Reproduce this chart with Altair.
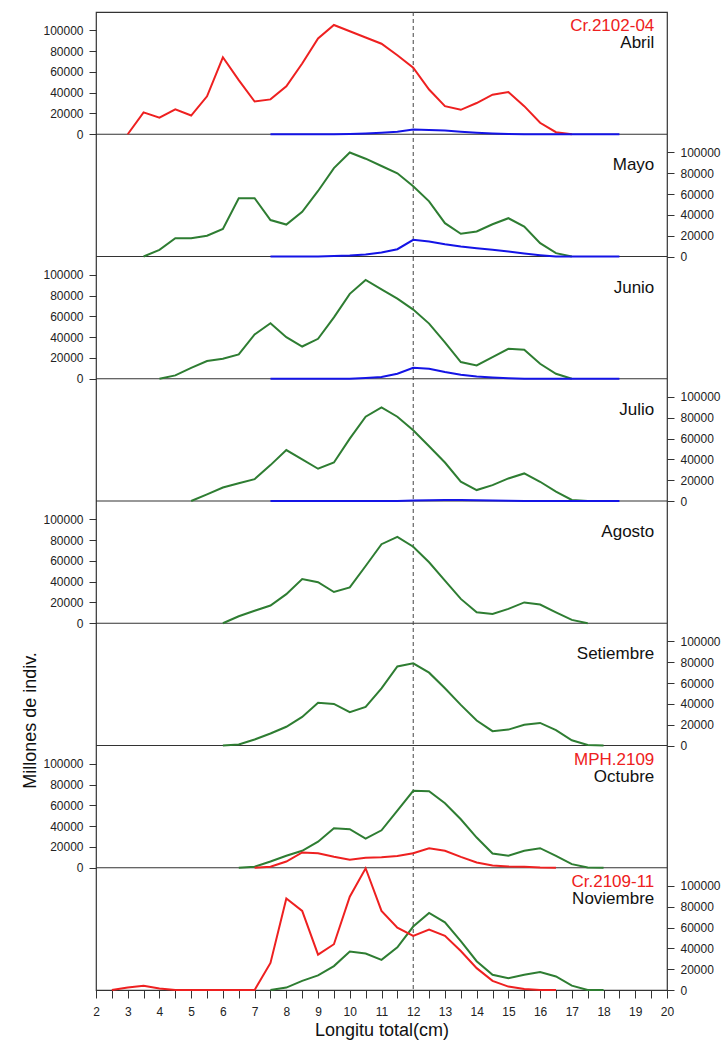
import altair as alt
import pandas as pd

# ---------------- data ----------------
LENGTHS = [2.5, 3.0, 3.5, 4.0, 4.5, 5.0, 5.5, 6.0, 6.5, 7.0, 7.5, 8.0, 8.5, 9.0,
           9.5, 10.0, 10.5, 11.0, 11.5, 12.0, 12.5, 13.0, 13.5, 14.0, 14.5, 15.0,
           15.5, 16.0, 16.5, 17.0, 17.5, 18.0, 18.5]
N = None

MONTHS = ["Abril", "Mayo", "Junio", "Julio", "Agosto", "Setiembre", "Octubre", "Noviembre"]
CRUISES = ["Cr.2102-04", "", "", "", "", "", "MPH.2109", "Cr.2109-11"]

abril_red = [N, 0, 21000, 16000, 24000, 18000, 36500, 74000, 52000, 31500, 33500, 46000, 68000, 92000,
             105000, 99000, 93000, 87000, 76000, 64000, 43000, 27000, 23500, 30000, 38000, 40500,
             27000, 11000, 2000, 0, N, N, N]
abril_blue = [N, N, N, N, N, N, N, N, N, N, 0, 0, 0, 0,
              0, 300, 800, 1500, 2500, 4500, 4200, 3500, 2500, 1500, 800, 300,
              0, 0, 0, 0, 0, 0, 0]
mayo_green = [N, N, 0, 6400, 17600, 17600, 20000, 26500, 56000, 56000, 35000, 30700, 43000, 63000,
              85000, 100000, 94000, 87000, 80000, 67500, 53000, 32000, 21800, 24000, 31000, 36800,
              28800, 12800, 3200, 0, N, N, N]
mayo_blue = [N, N, N, N, N, N, N, N, N, N, 0, 0, 0, 0,
             500, 1000, 2000, 3800, 7000, 16000, 14400, 11800, 9600, 8000, 6400, 4800,
             2900, 1300, 0, 0, 0, 0, 0]
junio_green = [N, N, N, 0, 3200, 10500, 17000, 19200, 23400, 42600, 53400, 40000, 31000, 38400,
               59000, 81600, 95000, 86000, 77000, 66500, 53000, 35000, 16000, 12800, 20800, 28800,
               27800, 14400, 4800, 0, N, N, N]
junio_blue = [N, N, N, N, N, N, N, N, N, N, 0, 0, 0, 0,
              0, 0, 700, 1600, 4800, 10500, 9600, 6400, 3800, 2200, 1300, 500,
              0, 0, 0, 0, 0, 0, 0]
julio_green = [N, N, N, N, N, 0, 6400, 13000, 17000, 21000, 34500, 49000, 40000, 31000,
               37000, 60000, 81000, 90000, 81000, 68000, 52700, 37000, 18500, 10500, 15300, 21700,
               26500, 18500, 9000, 1000, 0, N, N]
julio_blue = [N, N, N, N, N, N, N, N, N, N, 0, 0, 0, 0,
              0, 0, 0, 0, 0, 400, 800, 900, 900, 800, 600, 300,
              0, 0, 0, 0, 0, 0, 0]
agosto_green = [N, N, N, N, N, N, N, 0, 6700, 12000, 17000, 28000, 42500, 39400,
                30000, 34500, 55000, 76000, 83000, 73600, 58600, 41000, 23400, 10500, 9000, 13800,
                20000, 18000, 10500, 3200, 0, N, N]
setiembre_green = [N, N, N, N, N, N, N, 0, 1000, 5800, 11500, 18000, 27500, 41000,
                   40000, 32000, 37000, 55000, 76000, 79000, 70000, 55000, 39000, 24000, 13800, 15300,
                   20000, 21700, 14700, 5000, 500, 0, N]
octubre_green = [N, N, N, N, N, N, N, N, 0, 1000, 6000, 11500, 16300, 25000,
                 38000, 37000, 28000, 36000, 55000, 74000, 73500, 62000, 46600, 29000, 13700, 11500,
                 16300, 18800, 11500, 3500, 300, 0, N]
octubre_red = [N, N, N, N, N, N, N, N, N, 0, 1000, 6000, 14700, 14000,
               10500, 7700, 9600, 10200, 11200, 14000, 18800, 16300, 10500, 5100, 2200, 1300,
               1000, 300, 0, N, N, N, N]
noviembre_green = [N, N, N, N, N, N, N, N, N, N, 0, 2300, 8800, 14000,
                   23000, 37000, 35000, 29000, 41000, 61000, 74000, 65000, 47000, 27700, 14700, 11400,
                   14700, 17300, 13000, 4200, 0, 0, N]
noviembre_red = [0, 2500, 4000, 1500, 0, 0, 0, 0, 0, 0, 26000, 88000, 76000, 34000,
                 44000, 89600, 117000, 76000, 60000, 52000, 58000, 52000, 37500, 21000, 8800, 3300,
                 1000, 0, 0, N, N, N, N]

SERIES = [
    ("Abril", "red", abril_red), ("Abril", "blue", abril_blue),
    ("Mayo", "green", mayo_green), ("Mayo", "blue", mayo_blue),
    ("Junio", "green", junio_green), ("Junio", "blue", junio_blue),
    ("Julio", "green", julio_green), ("Julio", "blue", julio_blue),
    ("Agosto", "green", agosto_green),
    ("Setiembre", "green", setiembre_green),
    ("Octubre", "green", octubre_green), ("Octubre", "red", octubre_red),
    ("Noviembre", "green", noviembre_green), ("Noviembre", "red", noviembre_red),
]

Y_TICKS = [0, 20000, 40000, 60000, 80000, 100000]
X_TICKS = [2 + 0.5 * k for k in range(37)]

# ---------------- layout constants ----------------
P = 117500                 # data span of one panel
NP = len(MONTHS)
PLOT_W, PLOT_H = 571, 978
PX = P / (PLOT_H / NP)      # data units per pixel inside a panel

def offset(month):
    return (NP - 1 - MONTHS.index(month)) * P

rank = {"green": 0, "red": 1, "blue": 2}
rows = []
for month, col, vals in SERIES:
    for x, v in zip(LENGTHS, vals):
        if v is not None:
            rows.append({"x": x, "yy": v + offset(month), "series": col,
                         "key": f"{MONTHS.index(month)}{rank[col]}{month}"})
df = pd.DataFrame(rows)

left_months = MONTHS[0::2]
right_months = MONTHS[1::2]
left_vals = [offset(m) + t for m in left_months for t in Y_TICKS]
right_vals = [offset(m) + t for m in right_months for t in Y_TICKS]

sep_df = pd.DataFrame({"yy": [k * P for k in range(1, NP)]})
dash_df = pd.DataFrame({"x": [12]})
lab_df = pd.DataFrame({"x": [19.6] * NP, "yy": [offset(m) + P - 36 * PX for m in MONTHS], "label": MONTHS})
cr_df = pd.DataFrame({"x": [19.6] * NP, "yy": [offset(m) + P - 19 * PX for m in MONTHS], "label": CRUISES})
cr_df = cr_df[cr_df["label"] != ""]

FONT = "Liberation Sans"
YS = alt.Scale(domain=[0, NP * P], nice=False, zero=False)
XS = alt.Scale(domain=[2, 20], nice=False, zero=False)

X = alt.X("x:Q", scale=XS, axis=alt.Axis(
    values=X_TICKS, labelExpr="datum.value % 1 == 0 ? format(datum.value, 'd') : ''",
    tickSize=8, labelPadding=8, labelFontSize=12, labelFlush=False, labelOverlap=False,
    grid=False, domain=False, title="Longitu total(cm)", titleFontSize=18, titlePadding=4))

lab_expr = f"format(datum.value % {P}, 'd')"
Y_left = alt.Y("yy:Q", scale=YS, axis=alt.Axis(
    orient="left", values=left_vals, labelExpr=lab_expr, tickSize=7, labelPadding=6,
    labelFontSize=12, grid=False, domain=False, labelOverlap=False,
    title="Millones de indiv.", titleFontSize=18, titleAngle=270, titleX=-66, titleY=708,
    titleAlign="center", titleBaseline="middle"))
Y_right = alt.Y("yy:Q", scale=YS, axis=alt.Axis(
    orient="right", values=right_vals, labelExpr=lab_expr, tickSize=7, labelPadding=6,
    labelFontSize=12, grid=False, domain=False, labelOverlap=False, title=None))
Y_none = alt.Y("yy:Q", scale=YS, axis=None)

lines = alt.Chart(df).mark_line(strokeWidth=2).encode(
    x=X, y=Y_left,
    color=alt.Color("series:N", scale=alt.Scale(domain=["green", "red", "blue"],
                                                range=["#2E7D32", "#EE2020", "#1414E6"]), legend=None),
    detail="key:N", order="x:Q")

seps = alt.Chart(sep_df).mark_rule(color="#333333", strokeWidth=1.2).encode(y=Y_right)
dash = alt.Chart(dash_df).mark_rule(color="#444444", strokeWidth=1, strokeDash=[4, 3]).encode(x=X)
labels = alt.Chart(lab_df).mark_text(align="right", baseline="alphabetic", font=FONT,
                                     fontSize=17, color="#111111").encode(x=X, y=Y_none, text="label:N")
cruise = alt.Chart(cr_df).mark_text(align="right", baseline="alphabetic", font=FONT,
                                    fontSize=17, color="#EE2020").encode(x=X, y=Y_none, text="label:N")

chart = alt.layer(seps, dash, lines, labels, cruise).resolve_axis(y="independent").properties(
    width=PLOT_W, height=PLOT_H,
    padding={"left": 96, "top": 12, "right": 723 - 96 - PLOT_W, "bottom": 1047 - 12 - PLOT_H},
    autosize=alt.AutoSizeParams(type="none"),
).configure_view(stroke="#333333", strokeWidth=1.2).configure_axis(
    labelFont=FONT, titleFont=FONT, labelColor="#222222", titleColor="#111111",
    tickColor="#333333", titleFontWeight="normal")

chart.save("out.html", embed_options={"renderer": "svg", "actions": False})
